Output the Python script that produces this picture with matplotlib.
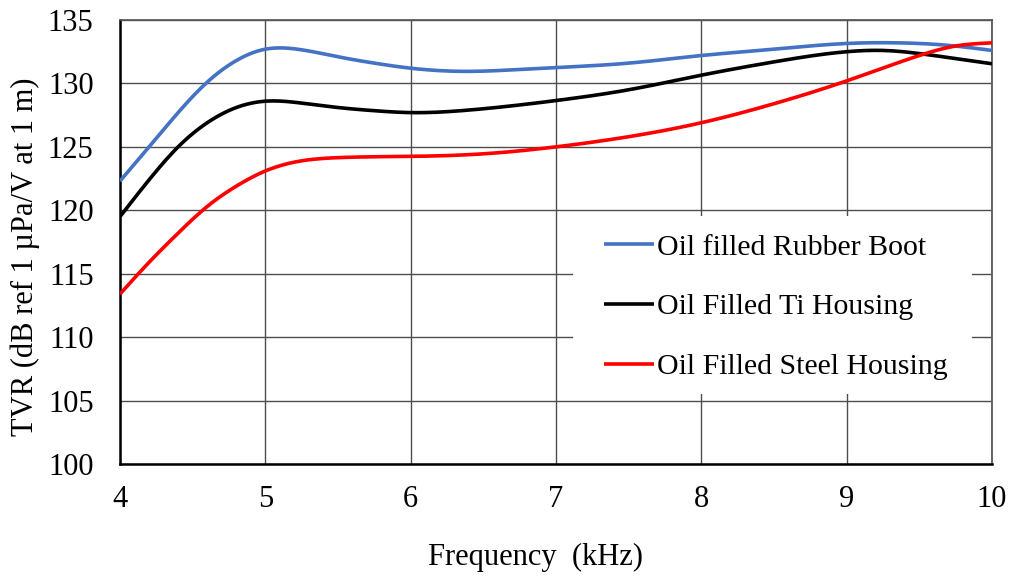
import numpy as np
import matplotlib
matplotlib.use("Agg")
import matplotlib.pyplot as plt
from matplotlib.patches import Rectangle

# Measured transmitting voltage response (dB ref 1 µPa/V at 1 m) vs frequency (kHz)
freq_rubber = [4.0, 4.2, 4.4, 4.6, 4.8, 5.0, 5.1, 5.25, 5.5, 5.75, 6.0, 6.4, 6.75,
               7.0, 7.5, 8.0, 8.5, 9.0, 9.35, 9.7, 10.0]
tvr_rubber = [122.3, 125.0, 127.7, 130.1, 131.8, 132.7, 132.8, 132.65, 132.1, 131.6,
              131.2, 130.95, 131.1, 131.25, 131.6, 132.2, 132.7, 133.15, 133.2, 133.0, 132.6]

freq_ti = [4.0, 4.2, 4.4, 4.6, 4.8, 5.0, 5.25, 5.5, 5.75, 6.0, 6.4, 7.0, 7.5, 8.0,
           8.5, 9.0, 9.25, 9.6, 10.0]
tvr_ti = [119.5, 122.4, 125.0, 126.9, 128.1, 128.6, 128.45, 128.1, 127.85, 127.7,
          127.9, 128.65, 129.5, 130.65, 131.7, 132.5, 132.6, 132.2, 131.55]

freq_steel = [4.0, 4.2, 4.4, 4.6, 4.8, 5.0, 5.25, 5.5, 6.0, 6.5, 7.0, 7.5, 8.0,
              8.5, 9.0, 9.5, 9.75, 10.0]
tvr_steel = [113.4, 115.9, 118.2, 120.3, 121.9, 123.1, 123.9, 124.15, 124.25, 124.45,
             125.0, 125.8, 126.9, 128.4, 130.2, 132.2, 132.95, 133.2]

labels = ["Oil filled Rubber Boot", "Oil Filled Ti Housing", "Oil Filled Steel Housing"]
colors = ["#4472C4", "#000000", "#FF0000"]
x_ticks = [4, 5, 6, 7, 8, 9, 10]
y_ticks = [100, 105, 110, 115, 120, 125, 130, 135]


def natural_spline(x, y, n=400):
    """Smooth curve through the points with a natural cubic spline."""
    x = np.asarray(x, float)
    y = np.asarray(y, float)
    k = len(x)
    h = np.diff(x)
    A = np.zeros((k, k))
    r = np.zeros(k)
    A[0, 0] = A[-1, -1] = 1.0
    for i in range(1, k - 1):
        A[i, i - 1] = h[i - 1]
        A[i, i] = 2 * (h[i - 1] + h[i])
        A[i, i + 1] = h[i]
        r[i] = 6 * ((y[i + 1] - y[i]) / h[i] - (y[i] - y[i - 1]) / h[i - 1])
    m = np.linalg.solve(A, r)
    xs = np.linspace(x[0], x[-1], n)
    idx = np.clip(np.searchsorted(x, xs) - 1, 0, k - 2)
    x0, x1 = x[idx], x[idx + 1]
    hh = x1 - x0
    t0, t1 = x1 - xs, xs - x0
    ys = (m[idx] * t0 ** 3 / (6 * hh) + m[idx + 1] * t1 ** 3 / (6 * hh)
          + (y[idx] / hh - m[idx] * hh / 6) * t0
          + (y[idx + 1] / hh - m[idx + 1] * hh / 6) * t1)
    return xs, ys


plt.rcParams["font.family"] = ["Liberation Serif", "DejaVu Serif"]

fig = plt.figure(figsize=(10.11, 5.78), dpi=100)
ax = fig.add_axes([120 / 1011, 1 - 464 / 578, 872 / 1011, 444 / 578])

series = [(freq_rubber, tvr_rubber), (freq_ti, tvr_ti), (freq_steel, tvr_steel)]
for (fx, fy), lab, col in zip(series, labels, colors):
    xs, ys = natural_spline(fx, fy)
    ax.plot(xs, ys, color=col, lw=2.6, label=lab, solid_capstyle="butt", zorder=3)

ax.set_xlim(4, 10)
ax.set_ylim(100, 135)
ax.set_xticks(x_ticks)
ax.set_yticks(y_ticks)
ax.tick_params(axis="both", length=0, labelsize=22)
ax.tick_params(axis="y", pad=19)
ax.tick_params(axis="x", pad=15)

ax.set_axisbelow(True)
ax.grid(True, color="#4d4d4d", lw=1.0)
for side in ("top", "right"):
    ax.spines[side].set_color("#595959")
    ax.spines[side].set_linewidth(1.3)
for side in ("left", "bottom"):
    ax.spines[side].set_color("black")
    ax.spines[side].set_linewidth(1.8)

# white panel behind the legend
ax.add_patch(Rectangle((0.5195, 0.1577), 0.4575, 0.401, transform=ax.transAxes,
                       facecolor="white", edgecolor="none", zorder=2))
ax.legend(loc="center", bbox_to_anchor=(0.752, 0.354), frameon=False, fontsize=21.5,
          handlelength=1.67, handletextpad=0.1, labelspacing=1.1)

fig.text(25 / 1011, 1 - 257 / 578, "TVR (dB ref 1 µPa/V at 1 m)", rotation=90,
         ha="center", va="center", fontsize=22)
fig.text(535 / 1011, 1 - 557 / 578, "Frequency  (kHz)", ha="center", va="center",
         fontsize=22)

fig.savefig("out.png", dpi=100)
